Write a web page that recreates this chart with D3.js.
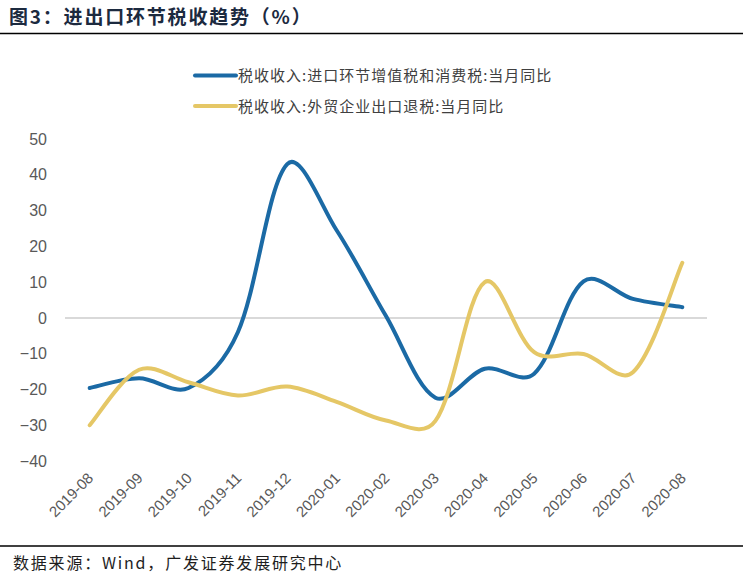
<!DOCTYPE html>
<html>
<head>
<meta charset="utf-8">
<script src="https://cdn.jsdelivr.net/npm/d3@7"></script>
<style>
  html, body { margin: 0; padding: 0; background: #fff; }
  svg { display: block; }
</style>
</head>
<body>
<svg id="chart" width="743" height="579"></svg>
<script>
const months = ["2019-08","2019-09","2019-10","2019-11","2019-12","2020-01","2020-02","2020-03","2020-04","2020-05","2020-06","2020-07","2020-08"];
const importTax = [-19.6, -16.9, -19.6, -4, 43, 24.5, 0.5, -22.3, -14.2, -15.6, 10.2, 5.3, 3];
const exportRebate = [-30, -14.5, -18, -21.7, -19.2, -23.5, -28.7, -28.8, 10, -9.6, -10.1, -15.2, 15.4];
const yTicks = [-40, -30, -20, -10, 0, 10, 20, 30, 40, 50];
const seriesNames = ["税收收入:进口环节增值税和消费税:当月同比", "税收收入:外贸企业出口退税:当月同比"];
const seriesColors = ["#1b6aa5", "#e5c766"];
const titleText = "图3：进出口环节税收趋势（%）";
const sourceText = "数据来源：Wind，广发证券发展研究中心";

// Smoothed line: Bezier whose tangents blend uniform and chord-proportional weights
function SmoothCurve(context) { this._context = context; }
SmoothCurve.prototype = {
  areaStart() { this._line = 0; },
  areaEnd() { this._line = NaN; },
  lineStart() { this._pts = []; },
  point(x, y) { this._pts.push([+x, +y]); },
  lineEnd() {
    const p = this._pts, n = p.length, c = this._context;
    if (!n) return;
    c.moveTo(p[0][0], p[0][1]);
    if (n === 1) return;
    const dist = (a, b) => Math.hypot(b[0] - a[0], b[1] - a[1]);
    const cin = [], cout = [];
    for (let i = 0; i < n; i++) {
      const prev = p[Math.max(0, i - 1)], next = p[Math.min(n - 1, i + 1)];
      const dx = next[0] - prev[0], dy = next[1] - prev[1];
      const a = i > 0 ? dist(p[i - 1], p[i]) : 0;
      const b = i < n - 1 ? dist(p[i], p[i + 1]) : 0;
      let fin, fout;
      if (i === 0) { fin = 0; fout = 1 / 6; }
      else if (i === n - 1) { fin = 1 / 6; fout = 0; }
      else {
        fin = 0.5 / 6 + 0.5 * (a / (a + b)) / 3;
        fout = 0.5 / 6 + 0.5 * (b / (a + b)) / 3;
      }
      cin[i] = [p[i][0] - dx * fin, p[i][1] - dy * fin];
      cout[i] = [p[i][0] + dx * fout, p[i][1] + dy * fout];
    }
    for (let i = 0; i < n - 1; i++) {
      c.bezierCurveTo(cout[i][0], cout[i][1], cin[i + 1][0], cin[i + 1][1], p[i + 1][0], p[i + 1][1]);
    }
  }
};
const curveSmooth = ctx => new SmoothCurve(ctx);

const svg = d3.select("#chart");

// Title
svg.append("text")
  .attr("x", 9).attr("y", 24)
  .attr("font-family", "'Noto Sans CJK SC', sans-serif")
  .attr("font-weight", "bold")
  .attr("font-size", 19)
  .attr("letter-spacing", 1.8)
  .attr("fill", "#1c2a3f")
  .text(titleText);

svg.append("line").attr("x1", 0).attr("x2", 743).attr("y1", 33.5).attr("y2", 33.5)
  .attr("stroke", "#000").attr("stroke-width", 1.5);
svg.append("line").attr("x1", 0).attr("x2", 743).attr("y1", 546).attr("y2", 546)
  .attr("stroke", "#000").attr("stroke-width", 1.5);

// Source
svg.append("text")
  .attr("x", 13).attr("y", 569)
  .attr("font-family", "'Noto Sans CJK SC', sans-serif")
  .attr("font-size", 16)
  .attr("letter-spacing", 1.8)
  .attr("fill", "#1e1e1e")
  .text(sourceText);

// Scales
const x = d3.scalePoint().domain(months).range([65, 707]).padding(0.5);
const y = d3.scaleLinear().domain([-40, 50]).range([461, 139]);

// zero line
svg.append("line")
  .attr("x1", 65).attr("x2", 707)
  .attr("y1", y(0)).attr("y2", y(0))
  .attr("stroke", "#d9d9d9").attr("stroke-width", 2);

// Y axis
const yAxis = svg.append("g")
  .attr("transform", "translate(47,0)")
  .call(d3.axisLeft(y).tickValues(yTicks).tickSize(0).tickPadding(0).tickFormat(d3.format("d")));
yAxis.select(".domain").remove();
yAxis.selectAll("text")
  .attr("font-family", "'Liberation Sans', Arial, sans-serif")
  .attr("font-size", 16)
  .attr("fill", "#595959");

// X axis
const xAxis = svg.append("g")
  .attr("transform", "translate(0,479)")
  .call(d3.axisBottom(x).tickSize(0));
xAxis.select(".domain").remove();
xAxis.selectAll("text")
  .attr("x", 0).attr("y", 0).attr("dy", 0)
  .attr("transform", "translate(4,0) rotate(-45)")
  .attr("text-anchor", "end")
  .attr("font-family", "'Liberation Sans', Arial, sans-serif")
  .attr("font-size", 15)
  .attr("fill", "#595959");

// Lines
const line = d3.line()
  .x((d, i) => x(months[i]))
  .y(d => y(d))
  .curve(curveSmooth);

[importTax, exportRebate].forEach((s, k) => {
  svg.append("path")
    .datum(s)
    .attr("d", line)
    .attr("fill", "none")
    .attr("stroke", seriesColors[k])
    .attr("stroke-width", 4)
    .attr("stroke-linecap", "round")
    .attr("stroke-linejoin", "round");
});

// Legend
const legendY = [75.5, 106];
seriesNames.forEach((name, k) => {
  svg.append("line")
    .attr("x1", 195).attr("x2", 236)
    .attr("y1", legendY[k]).attr("y2", legendY[k])
    .attr("stroke", seriesColors[k]).attr("stroke-width", 4)
    .attr("stroke-linecap", "round");
  svg.append("text")
    .attr("x", 238).attr("y", legendY[k] + 5.5)
    .attr("font-family", "'Noto Sans CJK SC', sans-serif")
    .attr("font-size", 15)
    .attr("letter-spacing", 1)
    .attr("fill", "#404040")
    .text(name);
});
</script>
</body>
</html>
